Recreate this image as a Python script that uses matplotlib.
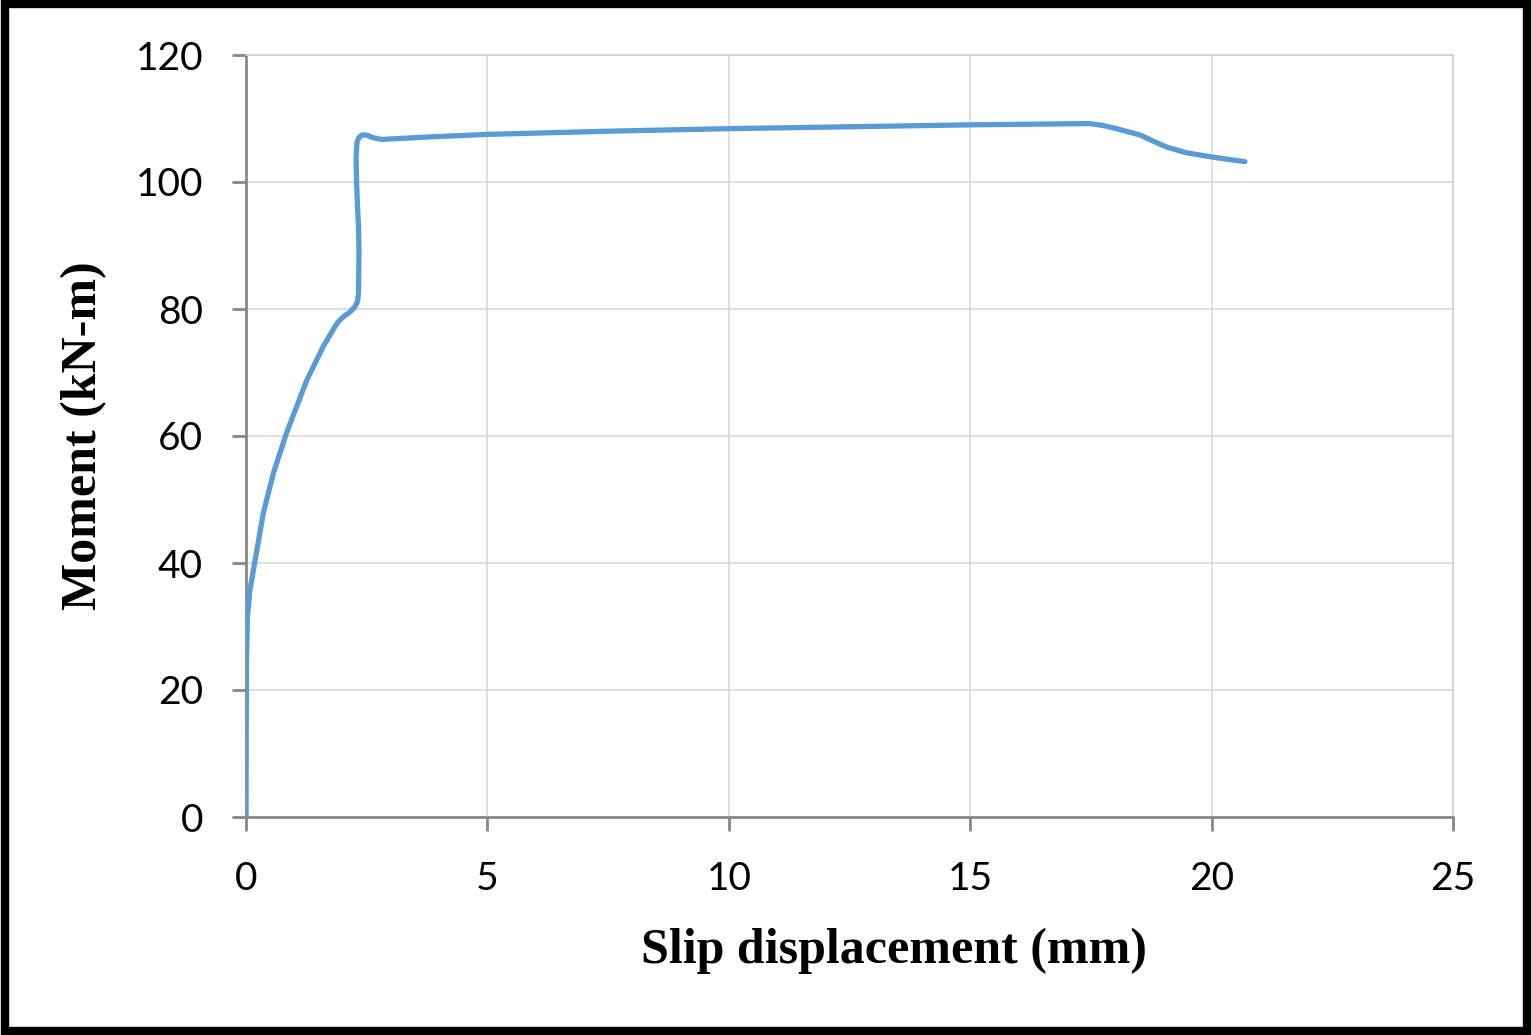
import matplotlib.pyplot as plt
from matplotlib.patches import Rectangle

# slip displacement (mm) vs moment (kN-m)
slip = [0.0, 0.005, 0.01, 0.03, 0.08, 0.19, 0.36, 0.57, 0.84, 1.26, 1.60, 1.88,
        1.95, 2.02, 2.15, 2.26, 2.31, 2.33, 2.34, 2.33, 2.31, 2.29, 2.28, 2.30, 2.34,
        2.40, 2.50, 2.62, 2.81, 3.81, 5.0,
        7.5, 10.0, 12.5, 15.0, 17.48, 17.75, 18.03, 18.52, 18.8, 19.07, 19.48, 20.04, 20.69]
moment = [0.0, 15.0, 25.0, 31.5, 35.7, 40.5, 47.9, 54.2, 60.5, 68.8, 74.1, 77.7,
          78.3, 78.8, 79.5, 80.4, 81.2, 82.5, 89.3, 93.0, 96.0, 100.0, 104.0, 106.3, 107.0,
          107.4, 107.4, 107.0, 106.7, 107.1, 107.5,
          108.0, 108.4, 108.7, 109.0, 109.2, 108.9, 108.4, 107.4, 106.4, 105.5, 104.6, 103.9, 103.2]

fig = plt.figure(figsize=(15.32, 10.35), dpi=100)
ax = fig.add_axes([246/1532, 1 - 817/1035, (1453-246)/1532, (817-55)/1035])

ax.plot(slip, moment, color='#5B9BD5', lw=3.8, solid_capstyle='round',
        solid_joinstyle='round', zorder=3)

ax.set_xlim(0, 25)
ax.set_ylim(0, 120)
ax.set_xticks(range(0, 26, 5))
ax.set_yticks(range(0, 121, 20))
ax.grid(True, color='#D9D9D9', lw=1.2)
ax.set_axisbelow(True)
for s in ax.spines.values():
    s.set_color('#D0D0D0')
    s.set_linewidth(1.2)
ax.spines['left'].set_color('#888888')
ax.spines['bottom'].set_color('#888888')
ax.spines['left'].set_linewidth(2)
ax.spines['bottom'].set_linewidth(2)
ax.tick_params(axis='both', direction='out', length=10, width=2, color='#888888',
               labelsize=28)
ax.tick_params(axis='y', pad=21)
ax.tick_params(axis='x', pad=22)
for lab in ax.get_xticklabels() + ax.get_yticklabels():
    lab.set_family(['Lato', 'DejaVu Sans'])

ax.set_xlabel('Slip displacement (mm)', family='Liberation Serif', fontweight='bold',
              fontsize=36, labelpad=24)
ax.xaxis.set_label_coords(0.537, -0.145)
ax.set_ylabel('Moment (kN-m)', family='Liberation Serif', fontweight='bold',
              fontsize=36, labelpad=20)

fig.patches.append(Rectangle((0.003, 0.004), 0.994, 0.992, transform=fig.transFigure,
                             fill=False, edgecolor='black', lw=6))

fig.savefig('out.png', dpi=100)
